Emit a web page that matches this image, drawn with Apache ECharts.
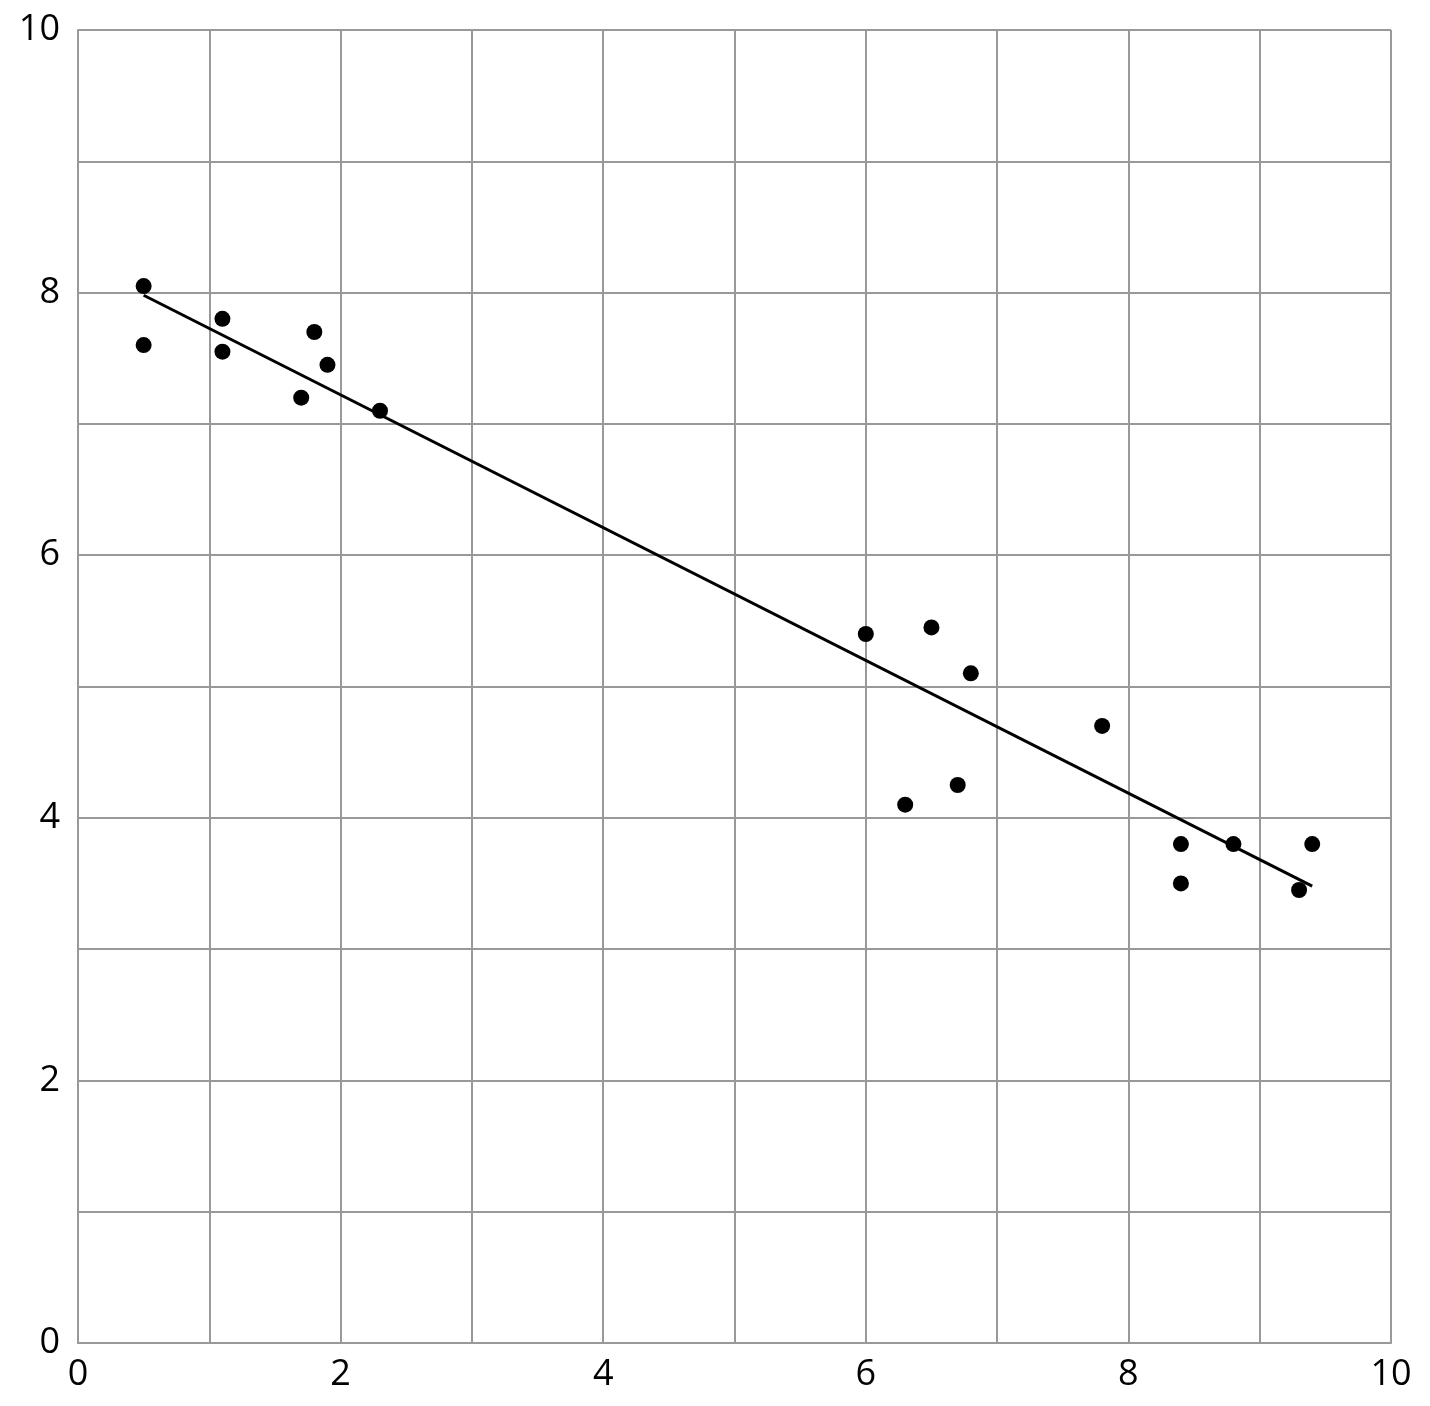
<!DOCTYPE html>
<html>
<head>
<meta charset="utf-8">
<script src="https://cdn.jsdelivr.net/npm/echarts@6/dist/echarts.min.js"></script>
<style>html,body{margin:0;padding:0;background:#fff;}#c{width:1430px;height:1406px;}</style>
</head>
<body>
<div id="c"></div>
<script>
const xValues = [0.5, 0.5, 1.1, 1.1, 1.7, 1.8, 1.9, 2.3, 6.0, 6.3, 6.5, 6.7, 6.8, 7.8, 8.4, 8.4, 8.8, 9.3, 9.4];
const yValues = [8.05, 7.6, 7.8, 7.55, 7.2, 7.7, 7.45, 7.1, 5.4, 4.1, 5.45, 4.25, 5.1, 4.7, 3.8, 3.5, 3.8, 3.45, 3.8];
const fitLineX = [0.5, 9.4];
const fitLineY = [7.98, 3.48];
const tickLabels = ['0', '2', '4', '6', '8', '10'];

const points = xValues.map((x, i) => [x, yValues[i]]);
const linePts = fitLineX.map((x, i) => [x, fitLineY[i]]);

const axisCommon = {
  type: 'value', min: 0, max: 10, interval: 1,
  axisLine: { show: true, lineStyle: { color: '#999', width: 2 } },
  axisTick: { show: false },
  splitLine: { show: true, lineStyle: { color: '#999', width: 2 } },
  axisLabel: {
    color: '#000', fontSize: 36, fontFamily: 'Open Sans',
    formatter: v => tickLabels.includes(String(v)) ? String(v) : ''
  }
};

const chart = echarts.init(document.getElementById('c'));
chart.setOption({
  animation: false,
  grid: { left: 78, right: 39, top: 30, bottom: 63, containLabel: false },
  xAxis: Object.assign({}, axisCommon, { axisLabel: Object.assign({}, axisCommon.axisLabel, { margin: 14 }) }),
  yAxis: Object.assign({}, axisCommon, { axisLabel: Object.assign({}, axisCommon.axisLabel, { margin: 18 }) }),
  series: [
    {
      type: 'line', data: linePts, symbol: 'none',
      lineStyle: { color: '#000', width: 3 }, z: 3
    },
    {
      type: 'scatter', data: points, symbolSize: 16,
      itemStyle: { color: '#000', opacity: 1 }, z: 4
    }
  ]
});
</script>
</body>
</html>
